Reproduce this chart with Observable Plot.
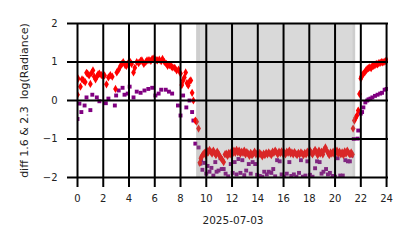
<!DOCTYPE html>
<html>
<head>
<meta charset="utf-8">
<script src="https://cdn.jsdelivr.net/npm/d3@7"></script>
<script src="https://cdn.jsdelivr.net/npm/@observablehq/plot@0.6"></script>
<style>
  html, body { margin: 0; padding: 0; background: #fff; }
  svg { font-family: "DejaVu Sans", sans-serif; }
</style>
</head>
<body>
<div id="chart"></div>
<script>
// Red series: diff 1.6 (hours, log radiance)
const redHours = [0.0,0.05,0.23,0.35,0.47,0.6,0.7,0.78,0.9,1.0,1.1,1.2,1.3,1.4,1.5,1.6,1.7,1.85,2.0,2.1,2.25,2.4,2.55,2.7,2.95,3.05,3.2,3.35,3.45,3.55,3.7,3.8,3.95,4.1,4.2,4.35,4.45,4.6,4.75,4.9,5.0,5.15,5.3,5.4,5.55,5.7,5.8,5.95,6.1,6.2,6.35,6.5,6.6,6.75,6.9,7.0,7.15,7.3,7.4,7.55,7.7,7.85,8.0,8.1,8.2,8.3,8.4,8.5,8.6,8.7,8.8,8.9,9.0,9.15,9.25,9.4,
9.5,9.58,9.65,9.75,9.85,9.95,10.05,10.15,10.25,10.35,10.45,10.55,10.65,10.75,10.85,10.95,11.05,11.15,11.25,11.35,11.45,11.55,11.65,11.75,11.85,11.95,12.05,12.15,12.25,12.35,12.45,12.55,12.65,12.75,12.85,12.95,13.05,13.15,13.25,13.35,13.45,13.55,13.65,13.75,13.85,13.95,14.05,14.15,14.25,14.35,14.45,14.55,14.65,14.75,14.85,14.95,15.05,15.15,15.25,15.35,15.45,15.55,15.65,15.75,15.85,15.95,16.05,16.15,16.25,16.35,16.45,16.55,16.65,16.75,16.85,16.95,17.05,17.15,17.25,17.35,17.45,17.55,17.65,17.75,17.85,17.95,18.05,18.15,18.25,18.35,18.45,18.55,18.65,18.75,18.85,18.95,19.05,19.15,19.25,19.35,19.45,19.55,19.65,19.75,19.85,19.95,20.05,20.15,20.25,20.35,20.45,20.55,20.65,20.75,20.85,20.95,21.05,21.15,21.25,21.35,
21.4,21.5,21.6,21.7,21.8,21.9,22.0,22.05,22.1,22.2,22.3,22.4,22.5,22.6,22.7,22.8,22.9,23.0,23.1,23.2,23.3,23.4,23.5,23.6,23.7,23.8,23.9,24.0];
const redValues = [0.15,0.57,0.36,0.55,0.52,0.48,0.72,0.7,0.65,0.43,0.72,0.78,0.62,0.55,0.62,0.68,0.7,0.66,0.63,0.65,0.42,0.6,0.66,0.62,0.3,0.73,0.8,0.9,0.95,1.0,0.92,0.9,0.98,1.0,0.95,0.73,0.85,1.0,0.97,1.03,1.04,0.95,1.0,1.04,1.05,1.03,1.08,1.1,1.05,1.04,1.06,1.02,1.08,1.0,0.95,0.9,0.92,0.88,0.86,0.85,0.78,0.8,0.7,0.4,0.52,0.6,0.73,0.45,0.39,0.5,0.52,0.2,0.0,-0.52,-0.55,-0.73,
-1.62,-1.5,-1.45,-1.4,-1.36,-1.42,-1.3,-1.35,-1.28,-1.33,-1.38,-1.3,-1.36,-1.42,-1.33,-1.38,-1.45,-1.5,-1.55,-1.6,-1.4,-1.38,-1.44,-1.36,-1.4,-1.33,-1.38,-1.3,-1.36,-1.28,-1.35,-1.3,-1.38,-1.33,-1.36,-1.3,-1.4,-1.34,-1.38,-1.44,-1.36,-1.42,-1.38,-1.33,-1.4,-1.37,-1.42,-1.36,-1.4,-1.45,-1.38,-1.42,-1.36,-1.4,-1.35,-1.38,-1.42,-1.33,-1.36,-1.3,-1.35,-1.4,-1.33,-1.37,-1.32,-1.38,-1.35,-1.4,-1.33,-1.36,-1.3,-1.38,-1.35,-1.4,-1.34,-1.38,-1.42,-1.36,-1.4,-1.35,-1.38,-1.42,-1.36,-1.4,-1.33,-1.38,-1.3,-1.36,-1.4,-1.34,-1.28,-1.35,-1.42,-1.3,-1.38,-1.33,-1.4,-1.28,-1.22,-1.3,-1.36,-1.42,-1.35,-1.38,-1.33,-1.4,-1.36,-1.3,-1.38,-1.33,-1.4,-1.35,-1.42,-1.32,-1.38,-1.3,-1.36,-1.4,-1.35,-1.4,
-0.73,-0.52,-0.45,-0.39,-0.26,0.17,0.57,0.62,0.65,0.7,0.73,0.78,0.82,0.84,0.86,0.84,0.9,0.9,0.92,0.95,0.94,0.97,0.98,1.0,0.99,1.0,1.02,1.04];

// Purple series: diff 2.3
const purpleHours = [0.0,0.15,0.3,0.55,0.7,1.0,1.15,1.5,1.7,2.2,2.4,2.9,3.0,3.2,3.5,3.65,3.9,4.05,4.35,4.6,4.9,5.2,5.5,5.8,6.05,6.3,6.5,6.85,7.1,7.35,7.8,8.0,8.2,8.45,8.7,8.9,9.0,9.15,9.4,9.55,
9.6,9.7,9.85,10.0,10.1,10.25,10.4,10.55,10.7,10.8,10.95,11.1,11.2,11.35,11.5,11.7,11.9,12.05,12.2,12.35,12.5,12.65,12.8,12.95,13.1,13.3,13.45,13.6,13.8,13.95,14.15,14.35,14.5,14.7,14.85,15.05,15.2,15.35,15.5,15.7,15.85,16.05,16.25,16.45,16.6,16.8,17.0,17.2,17.35,17.5,17.7,17.85,18.05,18.25,18.45,18.6,18.8,18.95,19.1,19.3,19.45,19.6,19.8,20.0,20.2,20.4,20.6,20.8,21.0,21.15,21.3,21.45,
21.75,21.8,22.0,22.1,22.2,22.35,22.5,22.6,22.75,22.9,23.1,23.3,23.5,23.65,23.85,24.0];
const purpleValues = [-0.48,-0.08,-0.3,-0.13,0.08,-0.25,0.15,0.08,-0.02,-0.07,0.05,-0.13,0.13,0.26,0.33,0.15,0.18,0.36,0.08,0.23,0.2,0.26,0.3,0.33,0.13,0.18,0.28,0.28,0.23,0.18,-0.13,-0.39,0.13,-0.18,0.0,-0.3,-0.52,-1.12,-1.22,-1.64,
-1.55,-1.8,-1.62,-1.9,-1.7,-1.85,-1.75,-1.95,-1.6,-1.85,-1.82,-1.5,-1.78,-1.78,-1.9,-1.97,-1.65,-1.88,-1.6,-1.92,-1.52,-1.88,-1.55,-1.94,-1.82,-1.65,-1.9,-1.6,-1.65,-1.93,-1.96,-1.98,-1.85,-1.92,-1.85,-1.88,-1.78,-1.97,-1.55,-1.58,-1.92,-1.98,-1.9,-1.6,-1.96,-1.92,-1.98,-1.88,-1.55,-1.98,-1.95,-1.58,-1.93,-1.98,-1.76,-1.58,-1.6,-1.9,-1.85,-1.78,-1.92,-1.88,-1.96,-1.98,-1.5,-1.95,-1.95,-1.55,-1.58,-1.58,-1.43,-1.0,
-0.99,-0.78,-0.34,-0.3,-0.18,-0.05,0.0,0.03,0.05,0.08,0.12,0.15,0.18,0.2,0.28,0.3];

// Night shading spans (hours)
const spanStart = [9.25, 9.25, 21.4];
const spanEnd = [21.6, 9.55, 21.6];
const spanOpacity = [0.3, 0.12, 0.12];

const xTicks = [0,2,4,6,8,10,12,14,16,18,20,22,24];
const yTicks = [-2,-1,0,1,2];
const xLabel = "2025-07-03";
const yLabel = "diff 1.6 & 2.3  log(Radiance)";

const red = redHours.map((h, i) => ({h, v: redValues[i]}));
const purple = purpleHours.map((h, i) => ({h, v: purpleValues[i]}));
const spans = spanStart.map((s, i) => ({s, e: spanEnd[i], o: spanOpacity[i]}));

const chart = Plot.plot({
  width: 414,
  height: 248,
  marginLeft: 77,
  marginRight: 26,
  marginTop: 23,
  marginBottom: 71,
  style: {fontFamily: "DejaVu Sans, sans-serif", fontSize: "10px", background: "#fff", color: "#222"},
  x: {domain: [0, 24.15], label: null},
  y: {domain: [-2, 2], label: null},
  marks: [
    Plot.dot(purple, {x: "h", y: "v", symbol: "square", r: 2.2, fill: "#800080", stroke: "none", clip: true}),
    Plot.dot(red, {x: "h", y: "v", symbol: "diamond", r: 2.5, fill: "#ff0000", stroke: "none", clip: true}),
    Plot.rectX(spans, {x1: "s", x2: "e", y1: -2, y2: 2, fill: "#808080", fillOpacity: "o"}),
    Plot.gridX({ticks: xTicks, stroke: "#000", strokeOpacity: 1, strokeWidth: 2}),
    Plot.gridY({ticks: yTicks, stroke: "#000", strokeOpacity: 1, strokeWidth: 2}),
    Plot.axisX({ticks: xTicks, tickSize: 10, tickPadding: 7, strokeWidth: 2, stroke: "#000", label: null, fontSize: 10, tickFormat: d => String(d)}),
    Plot.axisY({ticks: yTicks, tickSize: 10, tickPadding: 10, strokeWidth: 2, stroke: "#000", label: null, fontSize: 10, tickFormat: d => d < 0 ? "\u2212" + Math.abs(d) : String(d)}),
    Plot.text([xLabel], {frameAnchor: "bottom", dy: 46, text: d => d, fontSize: 10.5, fill: "#222"}),
    Plot.text([yLabel], {frameAnchor: "left", dx: -53, rotate: -90, textAnchor: "middle", text: d => d, fontSize: 11, fill: "#222"})
  ]
});
document.getElementById("chart").appendChild(chart);
</script>
</body>
</html>
